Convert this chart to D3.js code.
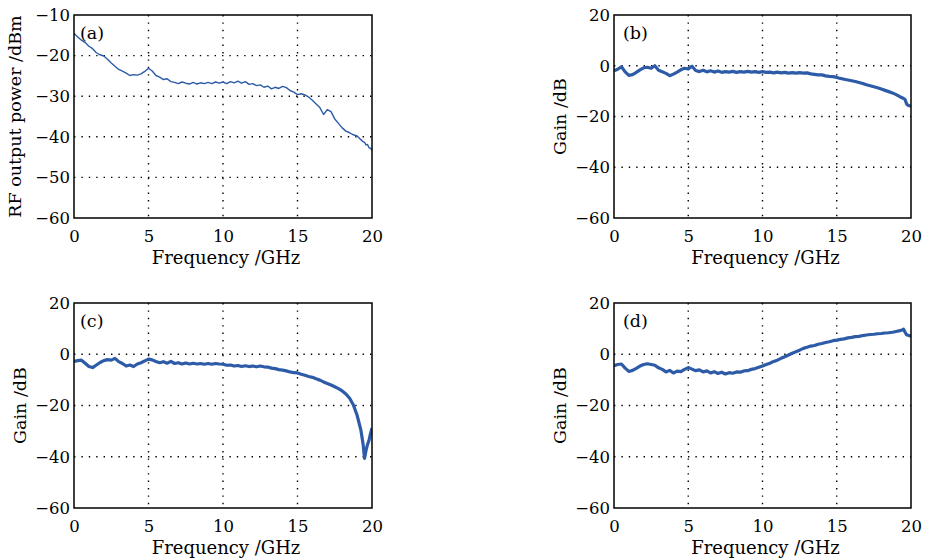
<!DOCTYPE html>
<html><head><meta charset="utf-8">
<script src="https://cdn.jsdelivr.net/npm/d3@7"></script>
<style>body{margin:0;background:#fff}</style>
</head><body>
<svg id="chart" width="929" height="559"></svg>
<script>
const freq = [
 0,0.25,0.5,0.75, 1,1.25,1.5,1.75, 2,2.25,2.5,2.75, 3,3.25,3.5,3.75, 4,4.25,4.5,4.75,
 5,5.25,5.5,5.75, 6,6.25,6.5,6.75, 7,7.25,7.5,7.75, 8,8.25,8.5,8.75, 9,9.25,9.5,9.75,
 10,10.25,10.5,10.75, 11,11.25,11.5,11.75, 12,12.25,12.5,12.75, 13,13.25,13.5,13.75,
 14,14.25,14.5,14.75, 15,15.25,15.5,15.75, 16,16.25,16.5,16.75, 17,17.25,17.5,17.75,
 18,18.25,18.5,18.75, 19,19.25, 19.4,19.5,19.6,19.7,19.8,19.9,20];

const powerA = [
 -14.5,-15.4,-16.2,-16.8, -17.7,-18.3,-19.3,-19.8, -20.1,-20.9,-21.8,-22.6, -23.4,-23.8,-24.3,-24.9,
 -24.7,-24.8,-24.5,-23.9, -23.1,-23.8,-24.9,-25.3, -25.9,-25.7,-26.4,-26.6, -26.9,-26.5,-26.8,-27.0,
 -26.6,-27.0,-26.7,-26.9, -26.6,-26.9,-26.5,-26.8, -26.5,-26.9,-26.4,-26.7, -26.3,-26.8,-26.4,-27.1,
 -26.9,-27.4,-27.2,-27.8, -27.5,-28.2,-27.8,-28.1, -27.6,-27.9,-28.6,-29.0, -29.6,-29.4,-29.7,-30.2,
 -31.0,-31.9,-32.8,-34.5, -33.3,-33.8,-35.6,-36.7, -37.8,-38.6,-39.0,-39.5, -39.8,-40.7,
 -41.2,-41.4,-42.0,-41.9,-42.7,-42.8,-43.4];

const gainB = [
 -2.0,-1.4,-0.4,-2.4, -3.8,-3.5,-2.6,-1.6, -0.8,-0.6,-1.0,0.0, -1.8,-2.4,-3.0,-3.9,
 -3.3,-2.5,-1.6,-1.0, -1.3,-0.2,-1.9,-2.3, -1.8,-2.4,-2.0,-2.5, -2.1,-2.6,-2.3,-2.5,
 -2.2,-2.6,-2.3,-2.5, -2.2,-2.5,-2.3,-2.6, -2.3,-2.6,-2.5,-2.8, -2.5,-2.8,-2.6,-2.9,
 -2.7,-2.9,-2.7,-2.9, -2.8,-3.2,-3.4,-3.6, -3.6,-4.0,-4.2,-4.3, -4.6,-5.0,-5.3,-5.6,
 -5.9,-6.2,-6.6,-7.0, -7.5,-7.9,-8.3,-8.7, -9.2,-9.7,-10.2,-10.7, -11.4,-12.2,
 -12.6,-12.9,-13.3,-15.0,-15.6,-15.8,-16.0];

const gainC = [
 -2.8,-2.5,-2.3,-3.5, -4.8,-5.2,-4.2,-3.2, -2.5,-2.1,-2.3,-1.6, -2.9,-3.6,-4.6,-4.2,
 -4.8,-3.8,-3.3,-2.6, -1.9,-2.2,-2.8,-3.3, -2.9,-3.5,-2.8,-3.6, -3.3,-3.8,-3.4,-3.8,
 -3.5,-3.8,-3.6,-3.9, -3.6,-3.9,-3.6,-3.8, -3.9,-4.3,-4.2,-4.6, -4.4,-4.8,-4.5,-4.8,
 -4.6,-4.9,-4.6,-4.9, -5.0,-5.4,-5.6,-6.0, -6.2,-6.5,-6.9,-7.2, -7.3,-7.8,-8.2,-8.7,
 -9.0,-9.6,-10.1,-10.8, -11.4,-12.0,-12.7,-13.4, -14.3,-15.5,-17.2,-19.8, -23.8,-29.5,
 -35.0,-40.6,-37.5,-35.2,-33.6,-31.0,-28.8];

const gainD = [
 -4.5,-4.0,-3.8,-5.4, -6.7,-6.3,-5.5,-4.6, -4.0,-3.7,-4.0,-4.3, -5.3,-5.9,-6.9,-6.3,
 -7.3,-6.6,-6.8,-5.9, -5.2,-5.8,-6.4,-6.1, -6.9,-6.5,-7.3,-6.8, -7.5,-7.0,-7.7,-7.2,
 -7.4,-6.9,-7.0,-6.5, -6.4,-5.9,-5.6,-5.1, -4.6,-4.0,-3.5,-2.8, -2.3,-1.6,-1.0,-0.3,
 0.4,1.0,1.6,2.3, 2.7,3.2,3.4,3.9, 4.2,4.6,4.9,5.3, 5.5,5.8,6.0,6.4,
 6.6,6.9,7.0,7.3, 7.5,7.7,7.8,8.0, 8.1,8.3,8.4,8.6, 8.9,9.2,
 9.5,9.8,8.6,7.6,7.4,7.2,7.0];

const xTicks = [0,5,10,15,20];
const yTicksA = [-10,-20,-30,-40,-50,-60];
const yTicksG = [20,0,-20,-40,-60];
const panelLabels = ["(a)","(b)","(c)","(d)"];
const xTitle = "Frequency /GHz";
const yTitles = ["RF output power /dBm","Gain /dB","Gain /dB","Gain /dB"];

const panels = [
 {values: powerA, yDomain:[-60,-10], yTicks:yTicksA, box:[74,15,372,218], lw:1.4, labelDx:6, titleX:21},
 {values: gainB, yDomain:[-60,20], yTicks:yTicksG, box:[614,15,911,218], lw:3.2, labelDx:9, titleX:566},
 {values: gainC, yDomain:[-60,20], yTicks:yTicksG, box:[74,303,372,508], lw:3.2, labelDx:6, titleX:26},
 {values: gainD, yDomain:[-60,20], yTicks:yTicksG, box:[614,303,911,508], lw:3.2, labelDx:9, titleX:566}
];

const svg = d3.select("#chart");
const FONT = "DejaVu Serif";
const blue = "#2d5ba8";

panels.forEach((p, i) => {
  const [x0, y0, x1, y1] = p.box;
  const x = d3.scaleLinear().domain([0,20]).range([x0, x1]);
  const y = d3.scaleLinear().domain(p.yDomain).range([y1, y0]);
  const g = svg.append("g");

  const clipId = "clip" + i;
  svg.append("clipPath").attr("id", clipId).append("rect")
    .attr("x", x0).attr("y", y0).attr("width", x1 - x0).attr("height", y1 - y0);

  // grid
  g.selectAll(".gx").data(xTicks.slice(1, -1)).enter().append("line")
    .attr("x1", d => x(d)).attr("x2", d => x(d)).attr("y1", y0).attr("y2", y1)
    .attr("stroke", "#000").attr("stroke-width", 1.4).attr("stroke-dasharray", "1.4,6");
  const yInner = p.yTicks.filter(v => v !== p.yDomain[0] && v !== p.yDomain[1]);
  g.selectAll(".gy").data(yInner).enter().append("line")
    .attr("x1", x0).attr("x2", x1).attr("y1", d => y(d)).attr("y2", d => y(d))
    .attr("stroke", "#000").attr("stroke-width", 1.4).attr("stroke-dasharray", "1.4,6");

  // curve
  const line = d3.line().x((d, k) => x(freq[k])).y(d => y(d));
  g.append("path").datum(p.values)
    .attr("clip-path", "url(#" + clipId + ")")
    .attr("d", line).attr("fill", "none").attr("stroke", blue)
    .attr("stroke-width", p.lw).attr("stroke-linejoin", "round");

  // box
  g.append("rect").attr("x", x0).attr("y", y0).attr("width", x1 - x0).attr("height", y1 - y0)
    .attr("fill", "none").attr("stroke", "#000").attr("stroke-width", 1.5);

  // axes
  const ax = g.append("g").attr("transform", `translate(0,${y1})`)
    .call(d3.axisBottom(x).tickValues(xTicks).tickSize(0).tickPadding(12));
  const ay = g.append("g").attr("transform", `translate(${x0},0)`)
    .call(d3.axisLeft(y).tickValues(p.yTicks).tickSize(0).tickPadding(4));
  [ax, ay].forEach(a => {
    a.select(".domain").remove();
    a.selectAll("text").attr("font-family", FONT).attr("font-size", 16.5).attr("fill", "#000");
  });

  // titles
  g.append("text").attr("x", (x0 + x1) / 2 + 3).attr("y", y1 + 46)
    .attr("text-anchor", "middle").attr("font-family", FONT).attr("font-size", 18)
    .text(xTitle);
  g.append("text").attr("transform", `translate(${p.titleX},${(y0 + y1) / 2}) rotate(-90)`)
    .attr("text-anchor", "middle").attr("font-family", FONT).attr("font-size", 17.5)
    .text(yTitles[i]);
  g.append("text").attr("x", x0 + p.labelDx).attr("y", y0 + 24)
    .attr("font-family", FONT).attr("font-size", 17.5).text(panelLabels[i]);
});
</script>
</body></html>
